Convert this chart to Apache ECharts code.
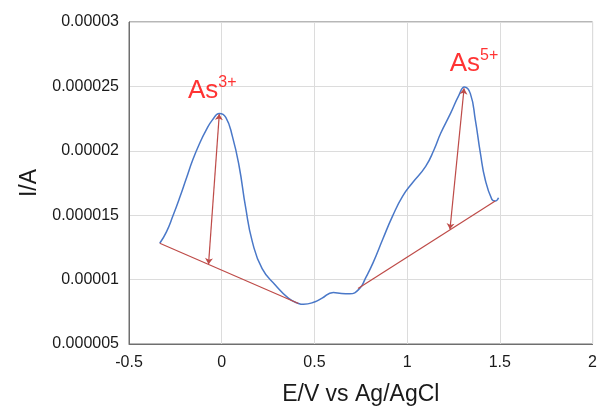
<!DOCTYPE html>
<html>
<head>
<meta charset="utf-8">
<script src="https://cdn.jsdelivr.net/npm/echarts@6/dist/echarts.min.js"></script>
<style>html,body{margin:0;padding:0;background:#fff}#c{width:600px;height:411px}</style>
</head>
<body>
<div id="c"></div>
<script>
// Voltammogram (E in V, I in A)
const curveE = [-0.334,-0.298,-0.263,-0.227,-0.191,-0.156,-0.120,-0.084,-0.050,-0.013,0.022,0.058,0.094,0.129,0.165,0.218,0.290,0.361,0.414,0.441,0.504,0.539,0.602,0.646,0.690,0.744,0.775,0.816,0.869,0.922,0.976,1.029,1.100,1.145,1.181,1.234,1.279,1.309,1.341,1.368,1.395,1.421,1.457,1.475,1.493];
const curveI = [12.82e-6,13.70e-6,14.95e-6,16.35e-6,17.85e-6,19.30e-6,20.55e-6,21.60e-6,22.40e-6,22.90e-6,22.60e-6,21.10e-6,18.80e-6,15.60e-6,12.95e-6,10.85e-6,9.56e-6,8.54e-6,8.15e-6,8.08e-6,8.28e-6,8.54e-6,9.00e-6,8.92e-6,8.90e-6,9.31e-6,10.10e-6,11.30e-6,13.15e-6,14.95e-6,16.48e-6,17.52e-6,18.79e-6,20.08e-6,21.36e-6,22.90e-6,24.31e-6,24.95e-6,24.44e-6,22.38e-6,19.82e-6,17.77e-6,16.23e-6,16.10e-6,16.36e-6];
// Baselines [E, I] pairs
const baseline3 = [[-0.334,12.82e-6],[0.414,8.15e-6]];
const baseline5 = [[0.735,9.30e-6],[1.475,16.10e-6]];
// Peak height arrows [from baseline, to peak]
const arrow3 = [[-0.071,11.2e-6],[-0.013,22.85e-6]];
const arrow5 = [[1.231,13.9e-6],[1.307,24.85e-6]];
// Peak labels
const peakLabels = [
  {name:'As', sup:'3+', E:-0.013, I:22.85e-6},
  {name:'As', sup:'5+', E:1.307, I:24.85e-6}
];
const xTicks = {min:-0.5, max:2, interval:0.5};
const yTicks = {min:0.000005, max:0.00003, interval:0.000005};

const chart = echarts.init(document.getElementById('c'));
const brown = '#BE4B48';
const font = 'Liberation Sans, Arial, sans-serif';
const labelOffsets = [[-7,-2],[10,-4]];
chart.setOption({
  animation:false,
  grid:{left:129,right:4,top:22,bottom:65,show:true,borderColor:'#6f6f6f',borderWidth:1},
  xAxis:{type:'value',min:xTicks.min,max:xTicks.max,interval:xTicks.interval,
    name:'E/V vs Ag/AgCl',nameLocation:'middle',nameGap:39,
    nameTextStyle:{fontSize:23,color:'#1a1a1a',fontFamily:font},
    axisLine:{show:true,onZero:false,lineStyle:{color:'#6f6f6f'}},axisTick:{show:false},
    axisLabel:{fontSize:16,color:'#1a1a1a',fontFamily:font,margin:11},
    splitLine:{lineStyle:{color:'#dcdcdc'}}},
  yAxis:{type:'value',min:yTicks.min,max:yTicks.max,interval:yTicks.interval,
    name:'I/A',nameLocation:'middle',nameGap:87,
    nameTextStyle:{fontSize:23,color:'#1a1a1a',fontFamily:font},
    axisLine:{show:true,onZero:false,lineStyle:{color:'#6f6f6f'}},axisTick:{show:false},
    axisLabel:{fontSize:16,color:'#1a1a1a',fontFamily:font,margin:10,
      formatter:v=>String(parseFloat(v.toFixed(7)))},
    splitLine:{lineStyle:{color:'#dcdcdc'}}},
  series:[
    {type:'line',data:curveE.map((e,i)=>[e,curveI[i]]),smooth:0.5,showSymbol:false,
      lineStyle:{color:'#4A78C8',width:1.5},z:3},
    {type:'lines',coordinateSystem:'cartesian2d',z:4,
      lineStyle:{color:brown,width:1.2,opacity:1},
      data:[{coords:baseline3},{coords:baseline5}]},
    {type:'lines',coordinateSystem:'cartesian2d',z:5,
      symbol:['arrow','arrow'],symbolSize:6,
      lineStyle:{color:brown,width:1.2,opacity:1},
      data:[{coords:arrow3},{coords:arrow5}]},
    {type:'scatter',symbolSize:0,z:6,
      data:peakLabels.map((p,i)=>({value:[p.E,p.I],lbl:p,label:{offset:labelOffsets[i]}})),
      label:{show:true,position:'top',distance:8,
        formatter:p=>'{a|'+p.data.lbl.name+'}{b|'+p.data.lbl.sup+'}',
        rich:{a:{fontSize:26,color:'#ff0000',fontFamily:font,verticalAlign:'bottom'},
              b:{fontSize:16,color:'#ff0000',fontFamily:font,verticalAlign:'top',padding:[0,0,13,0]}}}}
  ]
});
</script>
</body>
</html>
